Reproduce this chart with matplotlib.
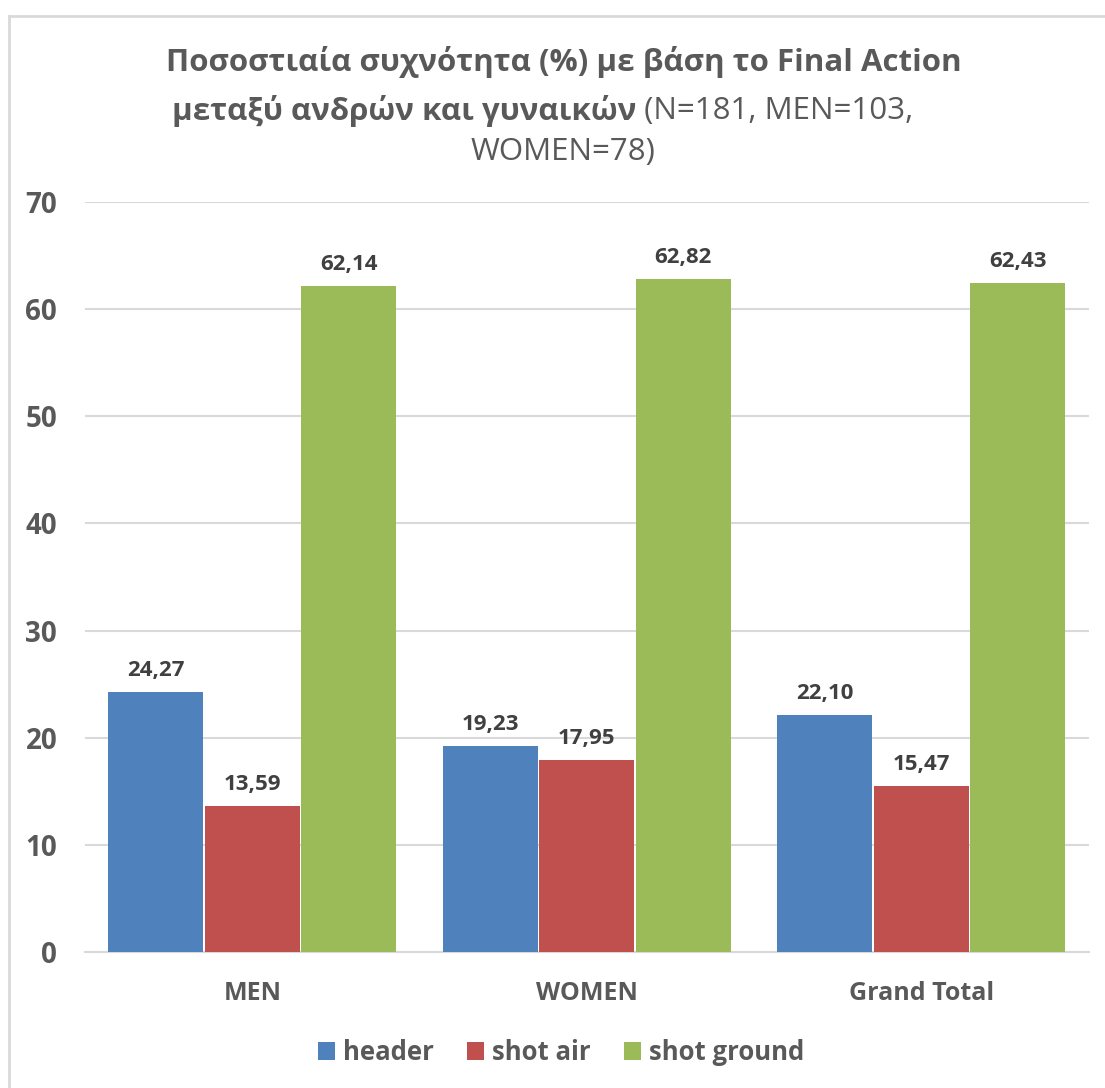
import matplotlib
matplotlib.use("Agg")
import matplotlib.pyplot as plt
import numpy as np
from matplotlib.lines import Line2D
from matplotlib.patches import Patch

categories = ["MEN", "WOMEN", "Grand Total"]
series_names = ["header", "shot air", "shot ground"]
header = [24.27, 19.23, 22.10]
shot_air = [13.59, 17.95, 15.47]
shot_ground = [62.14, 62.82, 62.43]
yticks = [0, 10, 20, 30, 40, 50, 60, 70]

colors = ["#4f81bd", "#c0504d", "#9bbb59"]
text_gray = "#595959"
label_gray = "#404040"
font = ["Open Sans", "DejaVu Sans"]
plt.rcParams["font.family"] = font

W, H = 1105, 1088
fig = plt.figure(figsize=(W / 100, H / 100), dpi=100)
ax = fig.add_axes([85 / W, 1 - 952 / H, (1088.5 - 85) / W, (952 - 202) / H])

x = np.arange(len(categories))
width = 0.284
offset = 0.289
for i, (vals, name) in enumerate(zip([header, shot_air, shot_ground], series_names)):
    pos = x + (i - 1) * offset
    bars = ax.bar(pos, vals, width=width, color=colors[i], label=name, zorder=3)
    for b, v in zip(bars, vals):
        ax.annotate(f"{v:.2f}".replace(".", ","),
                    (b.get_x() + b.get_width() / 2, v),
                    xytext=(0, 8), textcoords="offset points",
                    ha="center", va="bottom", fontsize=16,
                    fontweight="bold", color=label_gray)

ax.set_xlim(-0.5, 2.5)
ax.set_ylim(0, 70)
ax.set_yticks(yticks)
ax.set_yticklabels([str(t) for t in yticks], fontsize=20,
                   fontweight="bold", color=text_gray)
ax.set_xticks(x)
ax.set_xticklabels(categories, fontsize=18, fontweight="bold", color=text_gray)
ax.tick_params(axis="both", length=0)
ax.tick_params(axis="y", pad=20)
ax.tick_params(axis="x", pad=21)
ax.grid(axis="y", color="#d9d9d9", linewidth=1.5, zorder=0)
for s in ["top", "right", "left"]:
    ax.spines[s].set_visible(False)
ax.spines["bottom"].set_color("#d9d9d9")
ax.spines["bottom"].set_linewidth(1.5)

# Chart frame (left and top edges)
fig.add_artist(Line2D([9 / W, 9 / W], [0, 1 - 16 / H], color="#d9d9d9",
                      linewidth=2, transform=fig.transFigure))
fig.add_artist(Line2D([9 / W, 1], [1 - 16 / H, 1 - 16 / H], color="#d9d9d9",
                      linewidth=2, transform=fig.transFigure))

# Title: bold first line, mixed-weight second line, regular third line
title_size = 22.5
fig.text(564 / W, 1 - 62 / H, "Ποσοστιαία συχνότητα (%) με βάση το Final Action",
         ha="center", va="center", fontsize=title_size, fontweight="bold",
         color=text_gray)
renderer = fig.canvas.get_renderer()
t_bold = fig.text(0, 1 - 111 / H, "μεταξύ ανδρών και γυναικών", ha="left",
                  va="center", fontsize=title_size, fontweight="bold", color=text_gray)
t_norm = fig.text(0, 1 - 111 / H, " (N=181, MEN=103,", ha="left", va="center",
                  fontsize=title_size, color=text_gray)
wb = t_bold.get_window_extent(renderer).width
wn = t_norm.get_window_extent(renderer).width
start = 542.5 - (wb + wn) / 2
t_bold.set_x(start / W)
t_norm.set_x((start + wb) / W)
fig.text(563 / W, 1 - 152 / H, "WOMEN=78)", ha="center", va="center",
         fontsize=title_size, color=text_gray)

handles = [Patch(facecolor=c, label=n) for c, n in zip(colors, series_names)]
leg = fig.legend(handles=handles, loc="center", bbox_to_anchor=(561 / W, 1 - 1052 / H),
                 ncol=3, frameon=False, fontsize=18.5, handlelength=0.66,
                 handleheight=0.7, handletextpad=0.31, columnspacing=1.3)
for t in leg.get_texts():
    t.set_color(text_gray)
    t.set_fontweight("bold")

fig.savefig("out.png", dpi=100, facecolor="white")
